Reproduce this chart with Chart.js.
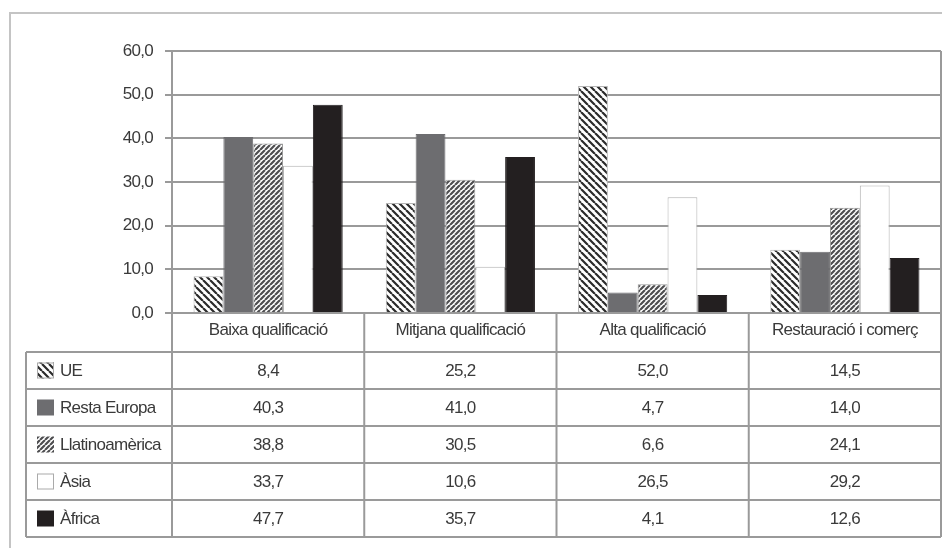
<!DOCTYPE html>
<html>
<head>
<meta charset="utf-8">
<script src="https://cdn.jsdelivr.net/npm/chart.js@4"></script>
<style>
  html, body { margin: 0; padding: 0; background: #ffffff; }
  #c { display: block; }
</style>
</head>
<body>
<canvas id="c" width="942" height="548"></canvas>
<script>
// ---- Data ----
const categories = ['Baixa qualificació', 'Mitjana qualificació', 'Alta qualificació', 'Restauració i comerç'];
const seriesNames = ['UE', 'Resta Europa', 'Llatinoamèrica', 'Àsia', 'Àfrica'];
const ueValues = [8.4, 25.2, 52.0, 14.5];
const restaEuropaValues = [40.3, 41.0, 4.7, 14.0];
const llatinoamericaValues = [38.8, 30.5, 6.6, 24.1];
const asiaValues = [33.7, 10.6, 26.5, 29.2];
const africaValues = [47.7, 35.7, 4.1, 12.6];
const yTickValues = [0, 10, 20, 30, 40, 50, 60];

// ---- Styling helpers ----
const FONT = '"Liberation Sans", Arial, sans-serif';
const FONT_SIZE = 17;
const LETTER_SPACING = '-0.7px';
const TEXT_COLOR = '#3a3a3a';
const LINE_COLOR = '#9a9a9a';

function hatch(dir, fg, period, lw) {
  const c = document.createElement('canvas');
  c.width = period; c.height = period;
  const g = c.getContext('2d');
  g.fillStyle = '#ffffff';
  g.fillRect(0, 0, period, period);
  g.strokeStyle = fg;
  g.lineWidth = lw;
  g.beginPath();
  for (let k = -1; k <= 1; k++) {
    if (dir === 'down') {
      g.moveTo(k * period, 0); g.lineTo(k * period + period, period);
    } else {
      g.moveTo(k * period, period); g.lineTo(k * period + period, 0);
    }
  }
  g.stroke();
  return g.createPattern(c, 'repeat');
}

const uePattern = hatch('down', '#2b2b2b', 7, 2.2);
const llatPattern = hatch('up', '#4e4e50', 5, 2.2);

const fmt = v => v.toFixed(1).replace('.', ',');

const seriesValues = [ueValues, restaEuropaValues, llatinoamericaValues, asiaValues, africaValues];
const seriesFill = [uePattern, '#6d6d70', llatPattern, '#ffffff', '#231f20'];
const seriesBorder = ['#b5b5b5', '#6d6d70', '#9a9a9a', '#b0b0b0', '#231f20'];

const datasets = seriesNames.map((name, i) => ({
  label: name,
  data: seriesValues[i],
  backgroundColor: seriesFill[i],
  borderColor: seriesBorder[i],
  borderWidth: 1,
  categoryPercentage: 0.776,
  barPercentage: 1.0
}));

const spacingPlugin = {
  id: 'spacing',
  beforeLayout(chart) { chart.ctx.letterSpacing = LETTER_SPACING; },
  beforeDraw(chart) {
    const ctx = chart.ctx;
    ctx.letterSpacing = LETTER_SPACING;
    // outer frame (cropped at right and bottom)
    ctx.save();
    ctx.strokeStyle = '#c4c4c4';
    ctx.lineWidth = 2;
    ctx.beginPath();
    ctx.moveTo(10, 548); ctx.lineTo(10, 13); ctx.lineTo(942, 13);
    ctx.stroke();
    ctx.restore();
  }
};

const tablePlugin = {
  id: 'dataTable',
  afterDraw(chart) {
    const { ctx, chartArea: a, scales: { x } } = chart;
    const n = categories.length;
    const half = (x.getPixelForValue(1) - x.getPixelForValue(0)) / 2;
    const bounds = [];
    for (let i = 0; i < n; i++) bounds.push(x.getPixelForValue(i) - half);
    bounds.push(x.getPixelForValue(n - 1) + half);

    const headerTop = a.bottom;
    const tableTop = headerTop + 39;
    const rowH = 37;
    const tableBottom = tableTop + rowH * seriesNames.length;
    const tableLeft = 26;

    ctx.save();
    ctx.letterSpacing = LETTER_SPACING;
    ctx.strokeStyle = LINE_COLOR;
    ctx.lineWidth = 2;
    ctx.beginPath();
    // right border of plot area
    ctx.moveTo(a.right, a.top); ctx.lineTo(a.right, headerTop);
    // vertical lines in header + table
    bounds.forEach(bx => { ctx.moveTo(bx, headerTop); ctx.lineTo(bx, tableBottom); });
    // left border of table
    ctx.moveTo(tableLeft, tableTop); ctx.lineTo(tableLeft, tableBottom);
    // horizontal lines
    for (let r = 0; r <= seriesNames.length; r++) {
      const yy = tableTop + r * rowH;
      ctx.moveTo(tableLeft, yy); ctx.lineTo(bounds[n], yy);
    }
    ctx.stroke();

    ctx.font = FONT_SIZE + 'px ' + FONT;
    ctx.fillStyle = TEXT_COLOR;
    ctx.textBaseline = 'middle';
    seriesNames.forEach((name, r) => {
      const cy = tableTop + r * rowH + rowH / 2;
      // legend key
      ctx.fillStyle = seriesFill[r];
      ctx.fillRect(37, cy - 8, 17, 16);
      if (r === 0 || r === 3) {
        ctx.strokeStyle = '#aaaaaa';
        ctx.lineWidth = 1;
        ctx.strokeRect(37.5, cy - 7.5, 16, 15);
      }
      ctx.fillStyle = TEXT_COLOR;
      ctx.textAlign = 'left';
      ctx.fillText(name, 60, cy + 1);
      ctx.textAlign = 'center';
      seriesValues[r].forEach((v, i) => {
        ctx.fillText(fmt(v), x.getPixelForValue(i), cy + 1);
      });
    });
    ctx.restore();
  }
};

new Chart(document.getElementById('c'), {
  type: 'bar',
  data: { labels: categories, datasets },
  options: {
    responsive: false,
    animation: false,
    devicePixelRatio: 1,
    layout: { padding: { top: 51, right: 1, left: 0, bottom: 0 } },
    plugins: { legend: { display: false }, tooltip: { enabled: false } },
    scales: {
      x: {
        grid: { display: false, drawTicks: false },
        border: { display: false },
        ticks: {
          color: TEXT_COLOR,
          padding: 7,
          maxRotation: 0,
          autoSkip: false,
          font: { family: FONT, size: FONT_SIZE }
        },
        afterFit(scale) { scale.height = 548 - 313; }
      },
      y: {
        min: 0,
        max: 60,
        afterBuildTicks(scale) { scale.ticks = yTickValues.map(v => ({ value: v })); },
        grid: { color: LINE_COLOR, lineWidth: 2, tickLength: 7, drawTicks: true },
        border: { display: true, color: LINE_COLOR, width: 2 },
        ticks: {
          color: TEXT_COLOR,
          padding: 12,
          font: { family: FONT, size: FONT_SIZE },
          callback: v => fmt(v)
        },
        afterFit(scale) { scale.width = 172; }
      }
    }
  },
  plugins: [spacingPlugin, tablePlugin]
});
</script>
</body>
</html>
